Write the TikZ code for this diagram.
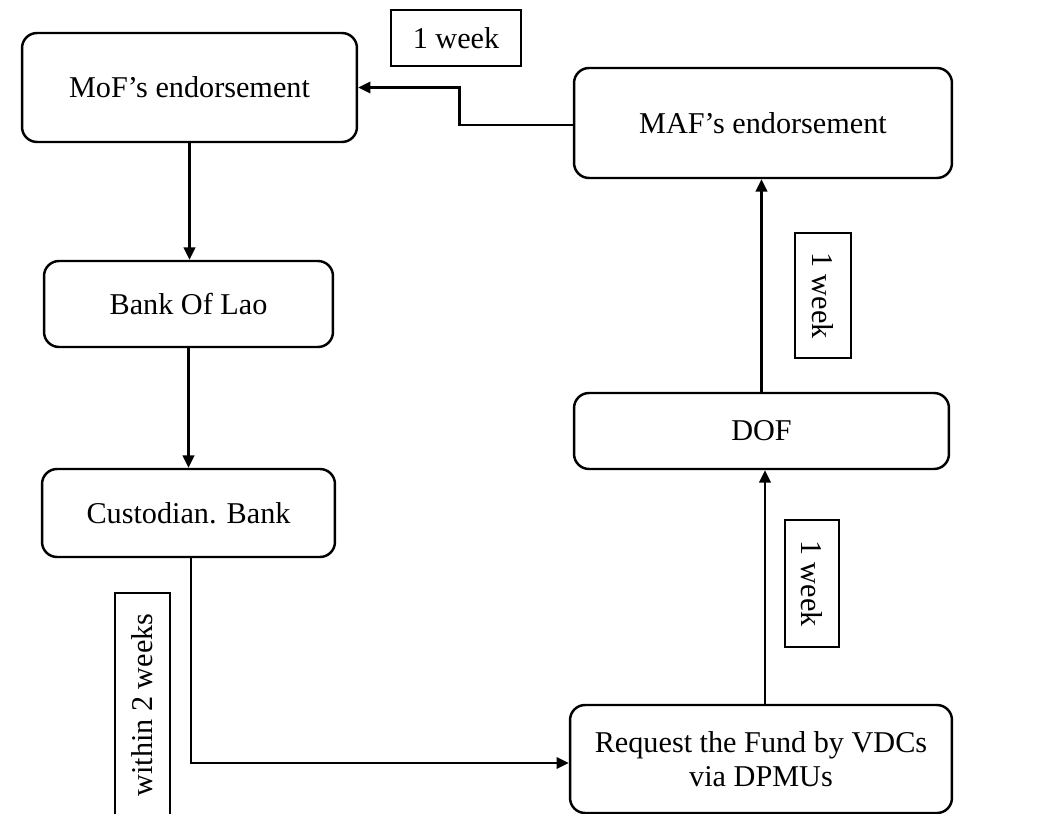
\documentclass[tikz,border=0pt]{standalone}
\usepackage{fontspec}
\setmainfont{Liberation Serif}
\usetikzlibrary{arrows.meta,calc}
\begin{document}
\begin{tikzpicture}[x=0.02cm,y=-0.02cm,
  stepbox/.style={draw, line width=1.4pt, rounded corners=0.3cm, inner sep=0pt, align=center, font=\fontsize{17.2}{19.5}\selectfont},
  tagbox/.style={draw, line width=0.9pt, inner sep=0pt, font=\fontsize{17.2}{19.5}\selectfont},
  flow/.style={line width=1.5pt, -{Triangle[length=7pt,width=6.5pt]}}]
\useasboundingbox[fill=white] (0,0) rectangle (1039,814);
\node[stepbox, minimum width=6.7cm, minimum height=2.18cm] (mof) at (189.5,87.5) {MoF’s endorsement};
\node[stepbox, minimum width=7.56cm, minimum height=2.2cm] (maf) at (763,123) {MAF’s endorsement};
\node[stepbox, minimum width=5.78cm, minimum height=1.72cm] (bol) at (188.5,304) {Bank Of Lao};
\node[stepbox, minimum width=7.5cm, minimum height=1.52cm] (dof) at (761.5,431) {DOF};
\node[stepbox, minimum width=5.86cm, minimum height=1.76cm] (cust) at (188.5,513) {Custodian. Bank};
\node[stepbox, minimum width=7.64cm, minimum height=2.16cm] (req) at (761,759) {Request the Fund by VDCs\\via DPMUs};
\node[tagbox, minimum width=2.6cm, minimum height=1.12cm] (t1) at (456,38) {1 week};
\node[tagbox, minimum width=2.5cm, minimum height=1.12cm, rotate=-90] (t2) at (823,295.5) {1 week};
\node[tagbox, minimum width=2.54cm, minimum height=1.08cm, rotate=-90] (t3) at (812,583.5) {1 week};
\node[tagbox, minimum width=4.48cm, minimum height=1.1cm, rotate=90] (t4) at (142.5,705) {within 2 weeks};
\draw[flow] (mof.south) -- (mof.south |- bol.north);
\draw[flow] (bol.south) -- (bol.south |- cust.north);
\draw[flow] ($(cust.south)+(2.5,0)$) |- ($(req.west)+(0,4)$);
\draw[flow] ($(req.north)+(4,0)$) -- ($(req.north |- dof.south)+(4,0)$);
\draw[flow] (dof.north) -- (dof.north |- maf.south);
\draw[flow] ($(maf.west)+(0,2)$) -- ++(-113,0) |- (mof.east);
\end{tikzpicture}
\end{document}
